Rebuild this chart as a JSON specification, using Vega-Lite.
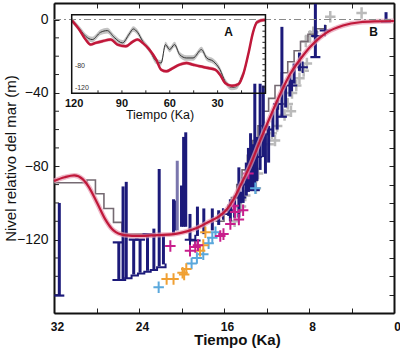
{
  "$schema": "https://vega.github.io/schema/vega-lite/v6.json",
  "width": 340,
  "height": 310,
  "autosize": {"type": "none"},
  "padding": {"left": 54, "top": 3, "right": 6, "bottom": 37},
  "background": "white",
  "config": {
    "font": "Liberation Sans",
    "view": {"stroke": null},
    "axis": {"grid": false, "domainColor": "#111", "tickColor": "#222", "labelColor": "#111", "titleColor": "#111", "domainWidth": 2, "tickWidth": 1, "labelOverlap": false}
  },
  "datasets": {
    "red": [
      {"t": 32, "m": -88}, {"t": 31, "m": -86}, {"t": 30.1, "m": -85}, {"t": 29.3, "m": -87}, {"t": 28.7, "m": -91.5},
      {"t": 27.9, "m": -100.5}, {"t": 27.2, "m": -108.7}, {"t": 26.4, "m": -115}, {"t": 25.4, "m": -117.5}, {"t": 23.9, "m": -118},
      {"t": 22.3, "m": -117.5}, {"t": 20.7, "m": -117}, {"t": 19.5, "m": -115.5}, {"t": 18.5, "m": -113.5}, {"t": 17.5, "m": -110.5},
      {"t": 16.5, "m": -107.5}, {"t": 15.8, "m": -104}, {"t": 15.1, "m": -98}, {"t": 14.5, "m": -91}, {"t": 13.5, "m": -79},
      {"t": 12.6, "m": -66}, {"t": 11.65, "m": -53}, {"t": 10.7, "m": -40.5}, {"t": 9.8, "m": -30}, {"t": 8.8, "m": -21.5},
      {"t": 7.9, "m": -15}, {"t": 7, "m": -10}, {"t": 6.3, "m": -7}, {"t": 4.8, "m": -3.3}, {"t": 3.2, "m": -1.5},
      {"t": 1.5, "m": -1}, {"t": 0, "m": -0.8}
    ],
    "steps": [
      {"t": 22.5, "m": -118.5, "s": "a"}, {"t": 25.6, "m": -117, "s": "a"}, {"t": 26.4, "m": -110.6, "s": "a"}, {"t": 27.3, "m": -103, "s": "a"},
      {"t": 28.1, "m": -95, "s": "a"}, {"t": 28.9, "m": -87.5, "s": "a"}, {"t": 31.2, "m": -89, "s": "a"}, {"t": 32, "m": -89, "s": "a"},
      {"t": 6.4, "m": -3, "s": "b"}, {"t": 7.3, "m": -5, "s": "b"}, {"t": 8.1, "m": -8, "s": "b"}, {"t": 8.8, "m": -12, "s": "b"},
      {"t": 9.4, "m": -17, "s": "b"}, {"t": 10.0, "m": -23, "s": "b"}, {"t": 10.6, "m": -29, "s": "b"}, {"t": 11.2, "m": -36, "s": "b"},
      {"t": 11.8, "m": -43, "s": "b"}, {"t": 12.3, "m": -50, "s": "b"}, {"t": 12.8, "m": -58, "s": "b"}, {"t": 13.3, "m": -66, "s": "b"},
      {"t": 13.8, "m": -74, "s": "b"}, {"t": 14.3, "m": -82, "s": "b"}, {"t": 14.8, "m": -90, "s": "b"}, {"t": 15.3, "m": -97, "s": "b"},
      {"t": 16.0, "m": -104, "s": "b"}, {"t": 16.8, "m": -110, "s": "b"}
    ],
    "bars": [
      {"t": 31.5, "lo": -150.5, "hi": -100}, {"t": 25.9, "lo": -142, "hi": -121.5}, {"t": 25.5, "lo": -141.5, "hi": -91},
      {"t": 25.2, "lo": -141, "hi": -88.5}, {"t": 24.5, "lo": -139, "hi": -120}, {"t": 23.9, "lo": -138, "hi": -120},
      {"t": 23.2, "lo": -137, "hi": -117}, {"t": 22.6, "lo": -136, "hi": -114}, {"t": 22.1, "lo": -134.5, "hi": -81.5},
      {"t": 21.7, "lo": -133.5, "hi": -118}, {"t": 20.75, "lo": -117, "hi": -98}, {"t": 20.6, "lo": -115, "hi": -98.7},
      {"t": 20.0, "lo": -113, "hi": -90.5}, {"t": 19.8, "lo": -113, "hi": -64}, {"t": 19.6, "lo": -113, "hi": -61.5},
      {"t": 19.2, "lo": -120, "hi": -106}, {"t": 18.5, "lo": -118, "hi": -102}, {"t": 17.9, "lo": -117, "hi": -103},
      {"t": 17.1, "lo": -115, "hi": -103}, {"t": 16.5, "lo": -112, "hi": -104}, {"t": 15.4, "lo": -110, "hi": -98},
      {"t": 15.0, "lo": -108, "hi": -96}, {"t": 14.6, "lo": -108, "hi": -80.6}, {"t": 14.2, "lo": -100, "hi": -86},
      {"t": 13.9, "lo": -96, "hi": -78}, {"t": 13.7, "lo": -94, "hi": -70}, {"t": 13.5, "lo": -93, "hi": -62},
      {"t": 13.3, "lo": -92, "hi": -68}, {"t": 13.1, "lo": -93, "hi": -35}, {"t": 12.9, "lo": -88, "hi": -64},
      {"t": 12.6, "lo": -82, "hi": -35}, {"t": 12.3, "lo": -75, "hi": -36}, {"t": 12.1, "lo": -84, "hi": -62},
      {"t": 11.8, "lo": -78, "hi": -58}, {"t": 11.4, "lo": -64, "hi": -50}, {"t": 11.0, "lo": -60, "hi": -44},
      {"t": 10.55, "lo": -53, "hi": -4}, {"t": 10.2, "lo": -48, "hi": -36}, {"t": 9.8, "lo": -42, "hi": -30},
      {"t": 9.4, "lo": -35, "hi": -24}, {"t": 8.9, "lo": -28, "hi": -18}, {"t": 7.4, "lo": -20.5, "hi": 8.5},
      {"t": 0.75, "lo": -1.5, "hi": 4}
    ],
    "lavbars": [{"t": 20.4, "lo": -115, "hi": -77}],
    "bottoms": [
      {"t": 21.5, "m": -133}, {"t": 22.3, "m": -135}, {"t": 22.9, "m": -136.5}, {"t": 23.5, "m": -137.5},
      {"t": 24.1, "m": -138.5}, {"t": 24.7, "m": -139.5}, {"t": 25.3, "m": -141}, {"t": 26.5, "m": -142}
    ],
    "caps": [
      {"t": 31.5, "m": -150.5}, {"t": 7.4, "m": -20.5}, {"t": 0.75, "m": -1.2}, {"t": 10.55, "m": -53},
      {"t": 13.1, "m": -93}, {"t": 26.0, "m": -121.5}, {"t": 24.5, "m": -120}, {"t": 23.9, "m": -120}, {"t": 23.2, "m": -117}
    ],
    "leftTicks": [
      {"t1": 32, "t2": 31.53, "m": -150}, {"t1": 32, "t2": 31.53, "m": -140}, {"t1": 32, "t2": 31.53, "m": -130},
      {"t1": 32, "t2": 31.53, "m": -110}, {"t1": 32, "t2": 31.53, "m": -100}, {"t1": 32, "t2": 31.53, "m": -90},
      {"t1": 32, "t2": 31.53, "m": -70}, {"t1": 32, "t2": 31.53, "m": -60}, {"t1": 32, "t2": 31.53, "m": -50},
      {"t1": 32, "t2": 31.53, "m": -30}, {"t1": 32, "t2": 31.53, "m": -20}, {"t1": 32, "t2": 31.53, "m": -10}
    ],
    "graycross": [
      {"t": 15.0, "m": -110}, {"t": 14.4, "m": -102}, {"t": 14.0, "m": -96}, {"t": 13.7, "m": -86}, {"t": 13.3, "m": -88},
      {"t": 13.0, "m": -92}, {"t": 12.8, "m": -84}, {"t": 11.8, "m": -68}, {"t": 11.5, "m": -62}, {"t": 11.2, "m": -66},
      {"t": 11.0, "m": -58}, {"t": 10.3, "m": -52}, {"t": 10.0, "m": -46}, {"t": 9.7, "m": -50}, {"t": 9.6, "m": -40},
      {"t": 9.2, "m": -36}, {"t": 8.9, "m": -32}, {"t": 8.5, "m": -28}, {"t": 8.2, "m": -24}, {"t": 8.3, "m": -12},
      {"t": 7.9, "m": -9}, {"t": 7.6, "m": -7}, {"t": 6.0, "m": 1.5}, {"t": 3.05, "m": 3.5}
    ],
    "crosses": [
      {"t": 19.2, "m": -120, "g": "nv"}, {"t": 18.7, "m": -120.5, "g": "nv"}, {"t": 16.1, "m": -106, "g": "nv"},
      {"t": 15.6, "m": -104, "g": "nv"}, {"t": 13.9, "m": -90, "g": "nv"}, {"t": 12.9, "m": -75, "g": "nv"},
      {"t": 11.9, "m": -60, "g": "nv"}, {"t": 10.9, "m": -46, "g": "nv"}, {"t": 9.6, "m": -36, "g": "nv"},
      {"t": 8.6, "m": -26, "g": "nv"}, {"t": 7.3, "m": -9, "g": "nv"}, {"t": 6.5, "m": -6, "g": "nv"}, {"t": 14.4, "m": -97, "g": "nv"},
      {"t": 22.15, "m": -146, "g": "lb"}, {"t": 19.05, "m": -133, "g": "lb"}, {"t": 18.55, "m": -130, "g": "lb"},
      {"t": 17.95, "m": -128, "g": "lb"}, {"t": 17.45, "m": -122, "g": "lb"}, {"t": 17.1, "m": -119, "g": "lb"},
      {"t": 16.8, "m": -116, "g": "lb"}, {"t": 13.05, "m": -92, "g": "lb"},
      {"t": 21.4, "m": -141.5, "g": "or"}, {"t": 20.75, "m": -141.5, "g": "or"}, {"t": 19.75, "m": -139, "g": "or"},
      {"t": 19.55, "m": -136, "g": "or"}, {"t": 19.9, "m": -138, "g": "or"}, {"t": 18.25, "m": -126, "g": "or"},
      {"t": 17.95, "m": -123, "g": "or"}, {"t": 17.75, "m": -116, "g": "or"},
      {"t": 21.05, "m": -123.5, "g": "mg"}, {"t": 19.2, "m": -126, "g": "mg"}, {"t": 18.7, "m": -124, "g": "mg"},
      {"t": 18.45, "m": -123, "g": "mg"}, {"t": 16.35, "m": -118, "g": "mg"}, {"t": 16.05, "m": -117, "g": "mg"},
      {"t": 15.4, "m": -111.5, "g": "mg"}, {"t": 14.95, "m": -105, "g": "mg"}, {"t": 14.6, "m": -109, "g": "mg"},
      {"t": 15.1, "m": -101.5, "g": "mg"}, {"t": 14.2, "m": -104, "g": "mg"}, {"t": 13.7, "m": -84, "g": "mg"}
    ],
    "zero": [{"t": 0, "m": 0}, {"t": 32, "m": 0}],
    "mainLabels": [{"t": 1.93, "m": -6.65, "lab": "B"}],
    "insetRed": [
      {"t": 121.3, "m": -1, "lo": -4, "hi": 2}, {"t": 117, "m": -16, "lo": -19, "hi": -13}, {"t": 112.8, "m": -35, "lo": -38, "hi": -32},
      {"t": 109.7, "m": -44, "lo": -47, "hi": -41}, {"t": 106.5, "m": -41, "lo": -44, "hi": -38}, {"t": 102.3, "m": -38, "lo": -41, "hi": -35},
      {"t": 97, "m": -35, "lo": -38, "hi": -32}, {"t": 92.8, "m": -44, "lo": -47, "hi": -41}, {"t": 87.5, "m": -47, "lo": -50, "hi": -44},
      {"t": 83.4, "m": -39, "lo": -42, "hi": -36}, {"t": 80.2, "m": -35, "lo": -38, "hi": -32}, {"t": 77, "m": -41, "lo": -44, "hi": -38},
      {"t": 72.8, "m": -53, "lo": -56, "hi": -50}, {"t": 68.5, "m": -71, "lo": -74, "hi": -68}, {"t": 65.4, "m": -89, "lo": -92, "hi": -86},
      {"t": 62.2, "m": -92, "lo": -95, "hi": -89}, {"t": 58, "m": -86, "lo": -89, "hi": -83}, {"t": 53.8, "m": -80, "lo": -83, "hi": -77},
      {"t": 49.6, "m": -77, "lo": -80, "hi": -74}, {"t": 45.4, "m": -80, "lo": -83, "hi": -77}, {"t": 41.1, "m": -83, "lo": -86, "hi": -80},
      {"t": 35.9, "m": -86, "lo": -89, "hi": -83}, {"t": 31.6, "m": -89, "lo": -92, "hi": -86}, {"t": 28.5, "m": -98, "lo": -101, "hi": -95},
      {"t": 25.3, "m": -113, "lo": -116, "hi": -110}, {"t": 21.1, "m": -118, "lo": -121, "hi": -115}, {"t": 16.9, "m": -115, "lo": -118, "hi": -112},
      {"t": 13.7, "m": -95, "lo": -98, "hi": -92}, {"t": 10.6, "m": -59, "lo": -62, "hi": -56}, {"t": 7.8, "m": -22, "lo": -25, "hi": -19},
      {"t": 5.3, "m": -4, "lo": -7, "hi": -1}, {"t": 1, "m": 0, "lo": -3, "hi": 3}, {"t": 0, "m": 0, "lo": -3, "hi": 3}
    ],
    "insetBlack": [
      {"t": 121.3, "m": -1, "lo": -6, "hi": 4}, {"t": 116, "m": -18, "lo": -23, "hi": -13}, {"t": 112.8, "m": -29, "lo": -34, "hi": -24},
      {"t": 108.6, "m": -35, "lo": -40, "hi": -30}, {"t": 103.4, "m": -22, "lo": -27, "hi": -17}, {"t": 99.2, "m": -19, "lo": -24, "hi": -14},
      {"t": 94.9, "m": -31, "lo": -36, "hi": -26}, {"t": 89.7, "m": -41, "lo": -46, "hi": -36}, {"t": 85.4, "m": -25, "lo": -30, "hi": -20},
      {"t": 82.9, "m": -16, "lo": -21, "hi": -11}, {"t": 80.2, "m": -22, "lo": -27, "hi": -17}, {"t": 77, "m": -38, "lo": -43, "hi": -33},
      {"t": 72.8, "m": -53, "lo": -58, "hi": -48}, {"t": 68.5, "m": -74, "lo": -79, "hi": -69}, {"t": 65.4, "m": -77, "lo": -82, "hi": -72},
      {"t": 62.7, "m": -44, "lo": -49, "hi": -39}, {"t": 60.1, "m": -53, "lo": -58, "hi": -48}, {"t": 57, "m": -44, "lo": -49, "hi": -39},
      {"t": 53.8, "m": -62, "lo": -67, "hi": -57}, {"t": 49.6, "m": -68, "lo": -73, "hi": -63}, {"t": 45.4, "m": -68, "lo": -73, "hi": -63},
      {"t": 40.1, "m": -53, "lo": -58, "hi": -48}, {"t": 36.9, "m": -68, "lo": -73, "hi": -63}, {"t": 32.7, "m": -74, "lo": -79, "hi": -69},
      {"t": 28.5, "m": -89, "lo": -94, "hi": -84}, {"t": 25.3, "m": -110, "lo": -115, "hi": -105}, {"t": 21.1, "m": -121, "lo": -126, "hi": -116},
      {"t": 17.9, "m": -119, "lo": -124, "hi": -114}, {"t": 14.8, "m": -101, "lo": -106, "hi": -96}, {"t": 13.7, "m": -95, "lo": -100, "hi": -90},
      {"t": 10.6, "m": -59, "lo": -64, "hi": -54}, {"t": 7.8, "m": -22, "lo": -27, "hi": -17}, {"t": 5.3, "m": -4, "lo": -8, "hi": 0},
      {"t": 1, "m": 0, "lo": -3, "hi": 3}
    ],
    "insetFrame": [{"t1": 121.5, "t2": 0, "m1": 9.5, "m2": -131.4}],
    "insetTicks": [
      {"t1": 105, "t2": 105, "m1": -131.4, "m2": -126}, {"t1": 90, "t2": 90, "m1": -131.4, "m2": -126},
      {"t1": 75, "t2": 75, "m1": -131.4, "m2": -126}, {"t1": 60, "t2": 60, "m1": -131.4, "m2": -126},
      {"t1": 45, "t2": 45, "m1": -131.4, "m2": -126}, {"t1": 30, "t2": 30, "m1": -131.4, "m2": -126},
      {"t1": 15, "t2": 15, "m1": -131.4, "m2": -126},
      {"t1": 0, "t2": 1.9, "m1": -10, "m2": -10}, {"t1": 0, "t2": 1.9, "m1": -20, "m2": -20}, {"t1": 0, "t2": 1.9, "m1": -30, "m2": -30},
      {"t1": 0, "t2": 1.9, "m1": -40, "m2": -40}, {"t1": 0, "t2": 1.9, "m1": -50, "m2": -50}, {"t1": 0, "t2": 1.9, "m1": -60, "m2": -60},
      {"t1": 0, "t2": 1.9, "m1": -70, "m2": -70}, {"t1": 0, "t2": 1.9, "m1": -80, "m2": -80}, {"t1": 0, "t2": 1.9, "m1": -90, "m2": -90},
      {"t1": 0, "t2": 1.9, "m1": -100, "m2": -100}, {"t1": 0, "t2": 1.9, "m1": -110, "m2": -110}, {"t1": 0, "t2": 1.9, "m1": -120, "m2": -120}
    ],
    "insetXLabels": [
      {"t": 120, "m": -131.4, "lab": "120"}, {"t": 90, "m": -131.4, "lab": "90"},
      {"t": 60, "m": -131.4, "lab": "60"}, {"t": 30, "m": -131.4, "lab": "30"}
    ],
    "insetYLabels": [
      {"t": 119.5, "m": -82, "lab": "-80"}, {"t": 119.5, "m": -121, "lab": "-120"}
    ],
    "insetTitle": [{"t": 66.1, "m": -131.4, "lab": "Tiempo (Ka)"}],
    "insetA": [{"t": 23.1, "m": -22, "lab": "A"}]
  },
  "layer": [
    {
      "layer": [
        {
          "layer": [
            {
              "data": {"name": "graycross"},
              "mark": {"type": "point", "shape": "M-1,0H1M0,-1.1V1.1", "filled": false, "size": 110, "strokeWidth": 2.5, "color": "#bababa", "opacity": 1},
              "encoding": {
                "x": {"field": "t", "type": "quantitative", "scale": {"domain": [0, 32], "reverse": true, "nice": false, "zero": false},
                  "axis": {"values": [0, 4, 8, 12, 16, 20, 24, 28, 32], "labelExpr": "datum.value % 8 == 0 ? toString(datum.value) : ''",
                    "tickSize": -5, "labelFontSize": 12, "labelFontWeight": "bold", "labelPadding": 13, "labelFlush": false, "labelOffset": 3, "labelOverlap": false,
                    "title": "Tiempo (Ka)", "titleFontSize": 15, "titleFontWeight": "bold", "titlePadding": 0, "titleX": 183}},
                "y": {"field": "m", "type": "quantitative", "scale": {"domain": [-160, 9], "nice": false, "zero": false},
                  "axis": {"values": [0, -40, -80, -120], "format": "d",
                    "labelOverlap": false, "labelBound": false, "labels": true,
                    "tickSize": -5, "labelFontSize": 14, "labelPadding": 11,
                    "title": "Nivel relativo del mar (m)", "titleFontSize": 15, "titleFontWeight": "normal", "titlePadding": -2}}
              }
            },
            {
              "data": {"name": "leftTicks"},
              "mark": {"type": "rule", "color": "#222", "strokeWidth": 1},
              "encoding": {"x": {"field": "t1", "type": "quantitative"}, "x2": {"field": "t2"}, "y": {"field": "m", "type": "quantitative"}}
            },
            {
              "data": {"name": "steps"},
              "mark": {"type": "line", "interpolate": "step-after", "color": "#756a72", "strokeWidth": 1.6},
              "encoding": {"x": {"field": "t", "type": "quantitative"}, "y": {"field": "m", "type": "quantitative"}, "detail": {"field": "s"}}
            },
            {
              "data": {"name": "bars"},
              "mark": {"type": "rule", "color": "#1c1a7a", "strokeWidth": 3},
              "encoding": {"x": {"field": "t", "type": "quantitative"}, "y": {"field": "lo", "type": "quantitative"}, "y2": {"field": "hi"}}
            },
            {
              "data": {"name": "lavbars"},
              "mark": {"type": "rule", "color": "#7a76ad", "strokeWidth": 3},
              "encoding": {"x": {"field": "t", "type": "quantitative"}, "y": {"field": "lo", "type": "quantitative"}, "y2": {"field": "hi"}}
            },
            {
              "data": {"name": "bottoms"},
              "mark": {"type": "line", "interpolate": "step-after", "color": "#1c1a7a", "strokeWidth": 2},
              "encoding": {"x": {"field": "t", "type": "quantitative"}, "y": {"field": "m", "type": "quantitative"}}
            },
            {
              "data": {"name": "caps"},
              "mark": {"type": "point", "shape": "M-1,0H1", "filled": false, "size": 100, "strokeWidth": 2.2, "color": "#1c1a7a", "opacity": 1},
              "encoding": {"x": {"field": "t", "type": "quantitative"}, "y": {"field": "m", "type": "quantitative"}}
            },
            {
              "data": {"name": "crosses"},
              "mark": {"type": "point", "shape": "M-1,0H1M0,-1.1V1.1", "filled": false, "size": 110, "strokeWidth": 2, "opacity": 1},
              "encoding": {
                "x": {"field": "t", "type": "quantitative"}, "y": {"field": "m", "type": "quantitative"},
                "color": {"field": "g", "type": "nominal", "scale": {"domain": ["nv", "lb", "or", "mg"], "range": ["#1c1a7a", "#5aa8dc", "#f0a033", "#c81e8c"]}, "legend": null}
              }
            },
            {
              "data": {"name": "red"},
              "mark": {"type": "line", "interpolate": "monotone", "color": "#e79ab0", "strokeWidth": 5, "opacity": 0.7},
              "encoding": {"x": {"field": "t", "type": "quantitative"}, "y": {"field": "m", "type": "quantitative"}}
            },
            {
              "data": {"name": "red"},
              "mark": {"type": "line", "interpolate": "monotone", "color": "#c0183a", "strokeWidth": 2.2},
              "encoding": {"x": {"field": "t", "type": "quantitative"}, "y": {"field": "m", "type": "quantitative"}}
            },
            {
              "data": {"name": "mainLabels"},
              "mark": {"type": "text", "fontWeight": "bold", "fontSize": 12, "color": "#111", "baseline": "middle", "align": "center"},
              "encoding": {"x": {"field": "t", "type": "quantitative"}, "y": {"field": "m", "type": "quantitative"}, "text": {"field": "lab"}}
            }
          ]
        },
        {
          "data": {"name": "zero"},
          "mark": {"type": "line", "color": "#8a8a8a", "strokeWidth": 1, "strokeDash": [7, 3, 2, 3]},
          "encoding": {
            "x": {"field": "t", "type": "quantitative", "axis": {"orient": "top", "values": [0, 4, 8, 12, 16, 20, 24, 28, 32], "labels": false, "tickSize": -5, "title": null}},
            "y": {"field": "m", "type": "quantitative", "axis": {"orient": "right", "values": [-150, -140, -130, -120, -110, -100, -90, -80, -70, -60, -50, -40, -30, -20, -10, 0], "labels": false, "tickSize": -5, "title": null}}
          }
        }
      ],
      "resolve": {"axis": {"x": "independent", "y": "independent"}}
    },
    {
      "layer": [
        {
          "data": {"name": "insetBlack"},
          "mark": {"type": "area", "color": "#bdbdbd", "opacity": 0.9, "interpolate": "monotone"},
          "encoding": {
            "x": {"field": "t", "type": "quantitative", "scale": {"domain": [-80.6, 132.6], "reverse": true, "nice": false, "zero": false}, "axis": null},
            "y": {"field": "lo", "type": "quantitative", "scale": {"domain": [-525, 30.5], "nice": false, "zero": false}, "axis": null},
            "y2": {"field": "hi"}
          }
        },
        {
          "data": {"name": "insetBlack"},
          "mark": {"type": "line", "color": "#333", "strokeWidth": 1, "interpolate": "monotone"},
          "encoding": {"x": {"field": "t", "type": "quantitative", "axis": null}, "y": {"field": "m", "type": "quantitative", "axis": null}}
        },
        {
          "data": {"name": "insetRed"},
          "mark": {"type": "area", "color": "#e9a3b3", "opacity": 0.9, "interpolate": "monotone"},
          "encoding": {"x": {"field": "t", "type": "quantitative", "axis": null}, "y": {"field": "lo", "type": "quantitative", "axis": null}, "y2": {"field": "hi"}}
        },
        {
          "data": {"name": "insetRed"},
          "mark": {"type": "line", "color": "#c0183a", "strokeWidth": 2.5, "interpolate": "monotone"},
          "encoding": {"x": {"field": "t", "type": "quantitative", "axis": null}, "y": {"field": "m", "type": "quantitative", "axis": null}}
        },
        {
          "data": {"name": "insetFrame"},
          "mark": {"type": "rect", "fillOpacity": 0, "stroke": "#111", "strokeWidth": 1.5},
          "encoding": {"x": {"field": "t1", "type": "quantitative", "axis": null}, "x2": {"field": "t2"}, "y": {"field": "m1", "type": "quantitative", "axis": null}, "y2": {"field": "m2"}}
        },
        {
          "data": {"name": "insetTicks"},
          "mark": {"type": "rule", "color": "#222", "strokeWidth": 1},
          "encoding": {"x": {"field": "t1", "type": "quantitative", "axis": null}, "x2": {"field": "t2"}, "y": {"field": "m1", "type": "quantitative", "axis": null}, "y2": {"field": "m2"}}
        },
        {
          "data": {"name": "insetXLabels"},
          "mark": {"type": "text", "fontWeight": "bold", "fontSize": 11, "color": "#111", "baseline": "top", "align": "center", "dy": 5},
          "encoding": {"x": {"field": "t", "type": "quantitative", "axis": null}, "y": {"field": "m", "type": "quantitative", "axis": null}, "text": {"field": "lab"}}
        },
        {
          "data": {"name": "insetYLabels"},
          "mark": {"type": "text", "fontSize": 7, "color": "#333", "baseline": "middle", "align": "left"},
          "encoding": {"x": {"field": "t", "type": "quantitative", "axis": null}, "y": {"field": "m", "type": "quantitative", "axis": null}, "text": {"field": "lab"}}
        },
        {
          "data": {"name": "insetTitle"},
          "mark": {"type": "text", "fontSize": 12.5, "color": "#111", "baseline": "middle", "align": "center", "dy": 22},
          "encoding": {"x": {"field": "t", "type": "quantitative", "axis": null}, "y": {"field": "m", "type": "quantitative", "axis": null}, "text": {"field": "lab"}}
        },
        {
          "data": {"name": "insetA"},
          "mark": {"type": "text", "fontWeight": "bold", "fontSize": 12, "color": "#111", "baseline": "middle", "align": "center"},
          "encoding": {"x": {"field": "t", "type": "quantitative", "axis": null}, "y": {"field": "m", "type": "quantitative", "axis": null}, "text": {"field": "lab"}}
        }
      ]
    }
  ],
  "resolve": {"scale": {"x": "independent", "y": "independent"}}
}
